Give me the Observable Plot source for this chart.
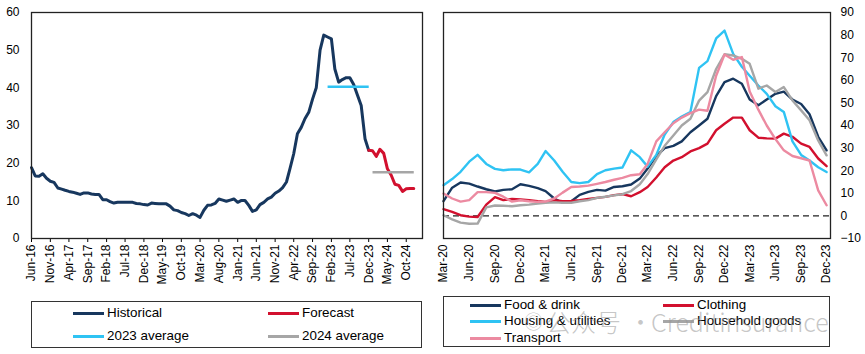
<!DOCTYPE html>
<html><head><meta charset="utf-8">
<script src="https://cdn.jsdelivr.net/npm/d3@7"></script>
<script src="https://cdn.jsdelivr.net/npm/@observablehq/plot@0.6"></script>
<style>
body{margin:0;background:#fff;font-family:"Liberation Sans",Arial,sans-serif;}
#wrap{position:relative;width:865px;height:354px;overflow:hidden;background:#fff;}
.panel{position:absolute;top:0;}
.legend{position:absolute;border:1.5px solid #333;box-sizing:border-box;}
.item{position:absolute;height:16px;display:flex;align-items:center;white-space:nowrap;font-size:13.4px;color:#000;line-height:16px;}
.sw{width:31px;height:3px;margin-right:3px;}
.wm{position:absolute;top:306px;height:30px;line-height:30px;font-family:"Noto Sans CJK SC","Noto Sans",sans-serif;font-size:25px;font-weight:300;color:rgba(150,150,150,0.55);white-space:nowrap;pointer-events:none;}
</style></head><body><div id="wrap"></div>
<script>
// ---------- Left chart data ----------
const leftStart = "Jun-16";
const historical = [18.8,16.6,16.5,17.2,16.0,15.2,14.9,13.4,13.1,12.8,
  12.5,12.3,12.0,11.7,12.1,12.1,11.8,11.7,11.7,10.3,
  10.3,9.8,9.4,9.6,9.6,9.6,9.6,9.6,9.3,9.2,
  9.0,8.9,9.4,9.3,9.2,9.2,9.2,8.6,7.6,7.4,
  6.9,6.6,6.1,6.6,6.2,5.6,7.5,8.8,8.9,9.3,
  10.5,10.2,9.9,10.2,10.5,9.6,10.1,10.1,8.8,7.2,
  7.6,9.0,9.6,10.5,11.0,12.0,12.6,13.5,15.0,18.5,
  22.5,27.8,29.5,31.8,33.5,37.0,40.0,50.0,54.0,53.5,
  53.0,45.0,41.5,42.2,42.7,42.7,40.9,38.0,35.3,26.5,23.4];
const forecastStart = "Dec-23";
const forecast = [23.4,23.3,21.8,23.7,22.6,18.5,16.8,14.4,14.1,12.5,13.2,13.3,13.3];
const avgNames = ["2023 average","2024 average"];
const avgValues = [40.3,17.6];
const avgFrom = ["Jan-23","Jan-24"];
const avgTo = ["Dec-23","Dec-24"];
const leftTicks = ["Jun-16","Nov-16","Apr-17","Sep-17","Feb-18","Jul-18","Dec-18","May-19","Oct-19","Mar-20","Aug-20","Jan-21","Jun-21","Nov-21","Apr-22","Sep-22","Feb-23","Jul-23","Dec-23","May-24","Oct-24"];

// ---------- Right chart data ----------
const rightStart = "Mar-20";
const foodDrink = [6.5,12.5,14.8,14.3,13,11.8,10.8,11.5,11.8,14,
  13.3,12.3,11,7.7,5.8,6.5,9.3,10.6,11.5,11.2,
  12.8,13.1,13.9,16.5,21,26.5,30,31,33,37,
  40,43,53,59.2,60.7,58.5,51.5,49,51.5,54,
  55,51.5,49.5,45,35,29];
const clothing = [3,1.8,0.3,-0.3,-0.5,5,8.3,7,7.5,7.3,
  7,6.5,6.2,6.9,6.5,6.6,6.9,7.5,8,8.4,
  9.2,9.6,8.7,10.5,12.8,17,21.5,24.5,26,28.5,
  30,32,37.9,40.8,43.5,43.5,37.9,34.6,34.3,34.2,
  36.4,35,32,30.5,25.4,22];
const housing = [13.6,16.3,19.5,24,27,23,20.8,20.2,20.6,20.5,
  19.3,23,28.7,24.5,19.5,15,14.5,15,18.5,20.2,
  20.9,21.4,29,26,21.8,27,36,41.5,44,46,
  65.5,68.5,78.5,82,71.7,66,62,57.7,54,48.5,
  46,33,27,24.5,21.5,19.4];
const household = [0.3,-1.5,-3,-3.5,-3.4,3.8,4.6,4.5,4.3,4.7,
  5,5.5,5.8,6,5.8,5.8,6.5,7,8,8.5,
  9.1,9.6,11,14,18.5,25,31,35.6,40,43,
  51,54.8,65,71.5,71,69.5,67.3,56.3,57.7,54.8,
  57,51.1,46.7,42.3,33.4,26.8];
const transport = [9.9,7.7,6.3,7,10.5,10.5,10.2,8.5,6.3,6.9,
  6.5,6.2,6.3,7.7,10.3,12.8,13,13.4,14.2,15,
  16,16.8,18,18.4,23,33,37,41,43.5,45.5,
  47,46.5,62,71.4,69.1,70.3,55,47,40,34,
  29,26.5,25.5,24.5,11.3,4.7];
const rightTicks = ["Mar-20","Jun-20","Sep-20","Dec-20","Mar-21","Jun-21","Sep-21","Dec-21","Mar-22","Jun-22","Sep-22","Dec-22","Mar-23","Jun-23","Sep-23","Dec-23"];
const seriesNames = ["Food & drink","Clothing","Housing & utilities","Household goods","Transport"];
const seriesColors = ["#17375E","#D2102E","#2FC3F3","#A6A6A6","#EC8AA1"];
const watermark = ["◎", "公众号", "·", "Creditinsurance"];

// ---------- helpers ----------
const parse = d3.utcParse("%b-%y");
const fmt = d3.utcFormat("%b-%y");
const toRows = (start, arr, name) => arr.map((v, i) => ({date: d3.utcMonth.offset(parse(start), i), v, name}));

const histRows = toRows(leftStart, historical, "Historical");
const fcRows = toRows(forecastStart, forecast, "Forecast");
const avgRows = avgNames.flatMap((n, i) => [
  {date: parse(avgFrom[i]), v: avgValues[i], name: n},
  {date: parse(avgTo[i]), v: avgValues[i], name: n}]);

const rightSeries = [foodDrink, clothing, housing, household, transport];
const rightRows = rightSeries.flatMap((arr, i) => toRows(rightStart, arr, seriesNames[i]));

const baseStyle = {fontFamily: "Liberation Sans, Arial, sans-serif", fontSize: "12px", color: "#000", background: "transparent", overflow: "visible"};

const left = Plot.plot({
  width: 430, height: 296,
  marginLeft: 31, marginRight: 8, marginTop: 12, marginBottom: 58,
  style: baseStyle,
  x: {type: "utc", domain: [parse(leftStart), new Date(Date.UTC(2025, 1, 10))],
      ticks: leftTicks.map(parse), tickFormat: fmt, tickRotate: -90, tickSize: 4, tickPadding: 2, label: null},
  y: {domain: [0, 60], ticks: d3.range(0, 61, 10), tickSize: 0, tickPadding: 12, label: null},
  color: {domain: avgNames, range: ["#2FC3F3", "#A6A6A6"]},
  marks: [
    Plot.line(histRows, {x: "date", y: "v", stroke: "#17375E", strokeWidth: 3}),
    Plot.line(fcRows, {x: "date", y: "v", stroke: "#D2102E", strokeWidth: 3}),
    Plot.line(avgRows, {x: "date", y: "v", z: "name", stroke: "name", strokeWidth: 2.6, strokeLinecap: "butt"}),
    Plot.frame({stroke: "#222", strokeWidth: 1.3})
  ]
});

const right = Plot.plot({
  width: 435, height: 296,
  marginLeft: 13, marginRight: 35, marginTop: 12, marginBottom: 58,
  style: baseStyle,
  x: {type: "utc", domain: [parse(rightStart), new Date(Date.UTC(2023, 11, 15))],
      ticks: rightTicks.map(parse), tickFormat: fmt, tickRotate: -90, tickSize: 0, tickPadding: 6, label: null},
  y: {domain: [-10, 90], ticks: d3.range(-10, 91, 10), axis: "right", tickSize: 0, tickPadding: 10, label: null},
  color: {domain: seriesNames, range: seriesColors},
  marks: [
    Plot.ruleY([0], {stroke: "#222", strokeWidth: 1.4, strokeDasharray: "6,4"}),
    Plot.line(rightRows, {x: "date", y: "v", z: "name", stroke: "name", strokeWidth: 2.4}),
    Plot.frame({stroke: "#222", strokeWidth: 1.3})
  ]
});

const wrap = document.getElementById("wrap");
const pl = document.createElement("div"); pl.className = "panel"; pl.style.left = "0px"; pl.appendChild(left); wrap.appendChild(pl);
const pr = document.createElement("div"); pr.className = "panel"; pr.style.left = "430px"; pr.appendChild(right); wrap.appendChild(pr);

function legend(box, items) {
  const d = document.createElement("div"); d.className = "legend";
  Object.assign(d.style, {left: box[0] + "px", top: box[1] + "px", width: box[2] + "px", height: box[3] + "px"});
  for (const it of items) {
    const e = document.createElement("div"); e.className = "item";
    e.style.left = it.x + "px"; e.style.top = it.y + "px";
    const s = document.createElement("span"); s.className = "sw"; s.style.background = it.c;
    const t = document.createElement("span"); t.textContent = it.t;
    e.appendChild(s); e.appendChild(t); d.appendChild(e);
  }
  wrap.appendChild(d);
}
legend([31, 301, 391, 47], [
  {x: 41, y: 3, c: "#17375E", t: "Historical"},
  {x: 236, y: 3, c: "#D2102E", t: "Forecast"},
  {x: 41, y: 26, c: "#2FC3F3", t: avgNames[0]},
  {x: 236, y: 26, c: "#A6A6A6", t: avgNames[1]}
]);
legend([443, 296, 387, 51], [
  {x: 26, y: 0, c: seriesColors[0], t: seriesNames[0]},
  {x: 219, y: 0, c: seriesColors[1], t: seriesNames[1]},
  {x: 26, y: 16, c: seriesColors[2], t: seriesNames[2]},
  {x: 219, y: 16, c: seriesColors[3], t: seriesNames[3]},
  {x: 26, y: 33, c: seriesColors[4], t: seriesNames[4]}
]);
// faint watermark overlaid on the right legend, as in the reference
const wmPos = [524, 546, 628, 651];
watermark.forEach((txt, i) => {
  const w = document.createElement("div"); w.className = "wm";
  w.style.left = wmPos[i] + "px"; w.textContent = txt;
  if (i === 0) w.style.fontSize = "19px";
  wrap.appendChild(w);
});
</script></body></html>
